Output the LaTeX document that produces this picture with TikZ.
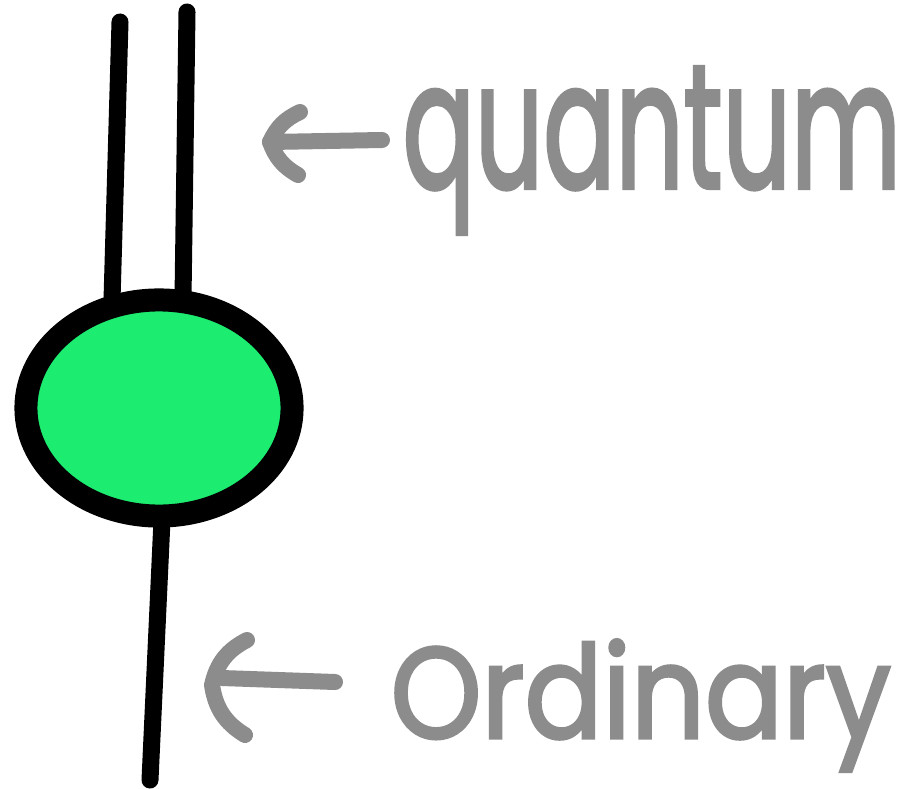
\documentclass[tikz,border=0pt]{standalone}
\usepackage{fontspec}
\setmainfont{Poppins}
\newfontfamily\penfont{Poppins}[FakeBold=2.5]
\usetikzlibrary{shapes.geometric}
\definecolor{qgreen}{HTML}{1CEC70}
\definecolor{pen}{HTML}{8C8C8C}
\tikzset{
  wire/.style={line width=0.17cm, line cap=round, black},
  penline/.style={line width=0.16cm, line cap=round, line join=round, pen},
  label/.style={text=pen, inner sep=0, anchor=base west, font=\penfont},
}
\begin{document}
\begin{tikzpicture}[x=0.01cm, y=-0.01cm]
\useasboundingbox[fill=white] (0,0) rectangle (910,788);
% wires
\coordinate (q1top) at (120,22);
\coordinate (q1bot) at (112,300);
\coordinate (q2top) at (187,12);
\coordinate (q2bot) at (183,298);
\coordinate (obot) at (150,780);
\coordinate (otop) at (162,520);
\draw[wire] (q1top) -- (q1bot);
\draw[wire] (q2top) -- (q2bot);
\draw[wire] (otop) -- (obot);
% gate
\node (gate) [ellipse, draw=black, fill=qgreen, line width=0.23cm,
  minimum width=2.66cm, minimum height=2.16cm, inner sep=0] at (159,408) {};
% arrows
\coordinate (a1tail) at (382,140);
\coordinate (a1tip) at (270,142);
\coordinate (a1top) at (300,112);
\coordinate (a1bot) at (298,175);
\draw[penline] (a1tail) -- (a1tip);
\draw[penline] (a1top) to[bend right=20] (a1tip) to[bend right=20] (a1bot);
\coordinate (a2tail) at (335,682);
\coordinate (a2tip) at (222,678);
\coordinate (a2top) at (247,640);
\coordinate (a2bot) at (245,735);
\draw[penline] (a2tail) -- (a2tip);
\draw[penline] (a2top) to[bend right=25] (212,685) to[bend right=25] (a2bot);
% labels
\node[label] (qlabel) at (402,188) {\resizebox{4.98cm}{!}{\scalebox{1}[1.65]{quantum}}};
\node[label] (olabel) at (390,738) {\resizebox{5cm}{!}{\scalebox{1}[1.12]{Ordinary}}};
\end{tikzpicture}
\end{document}
